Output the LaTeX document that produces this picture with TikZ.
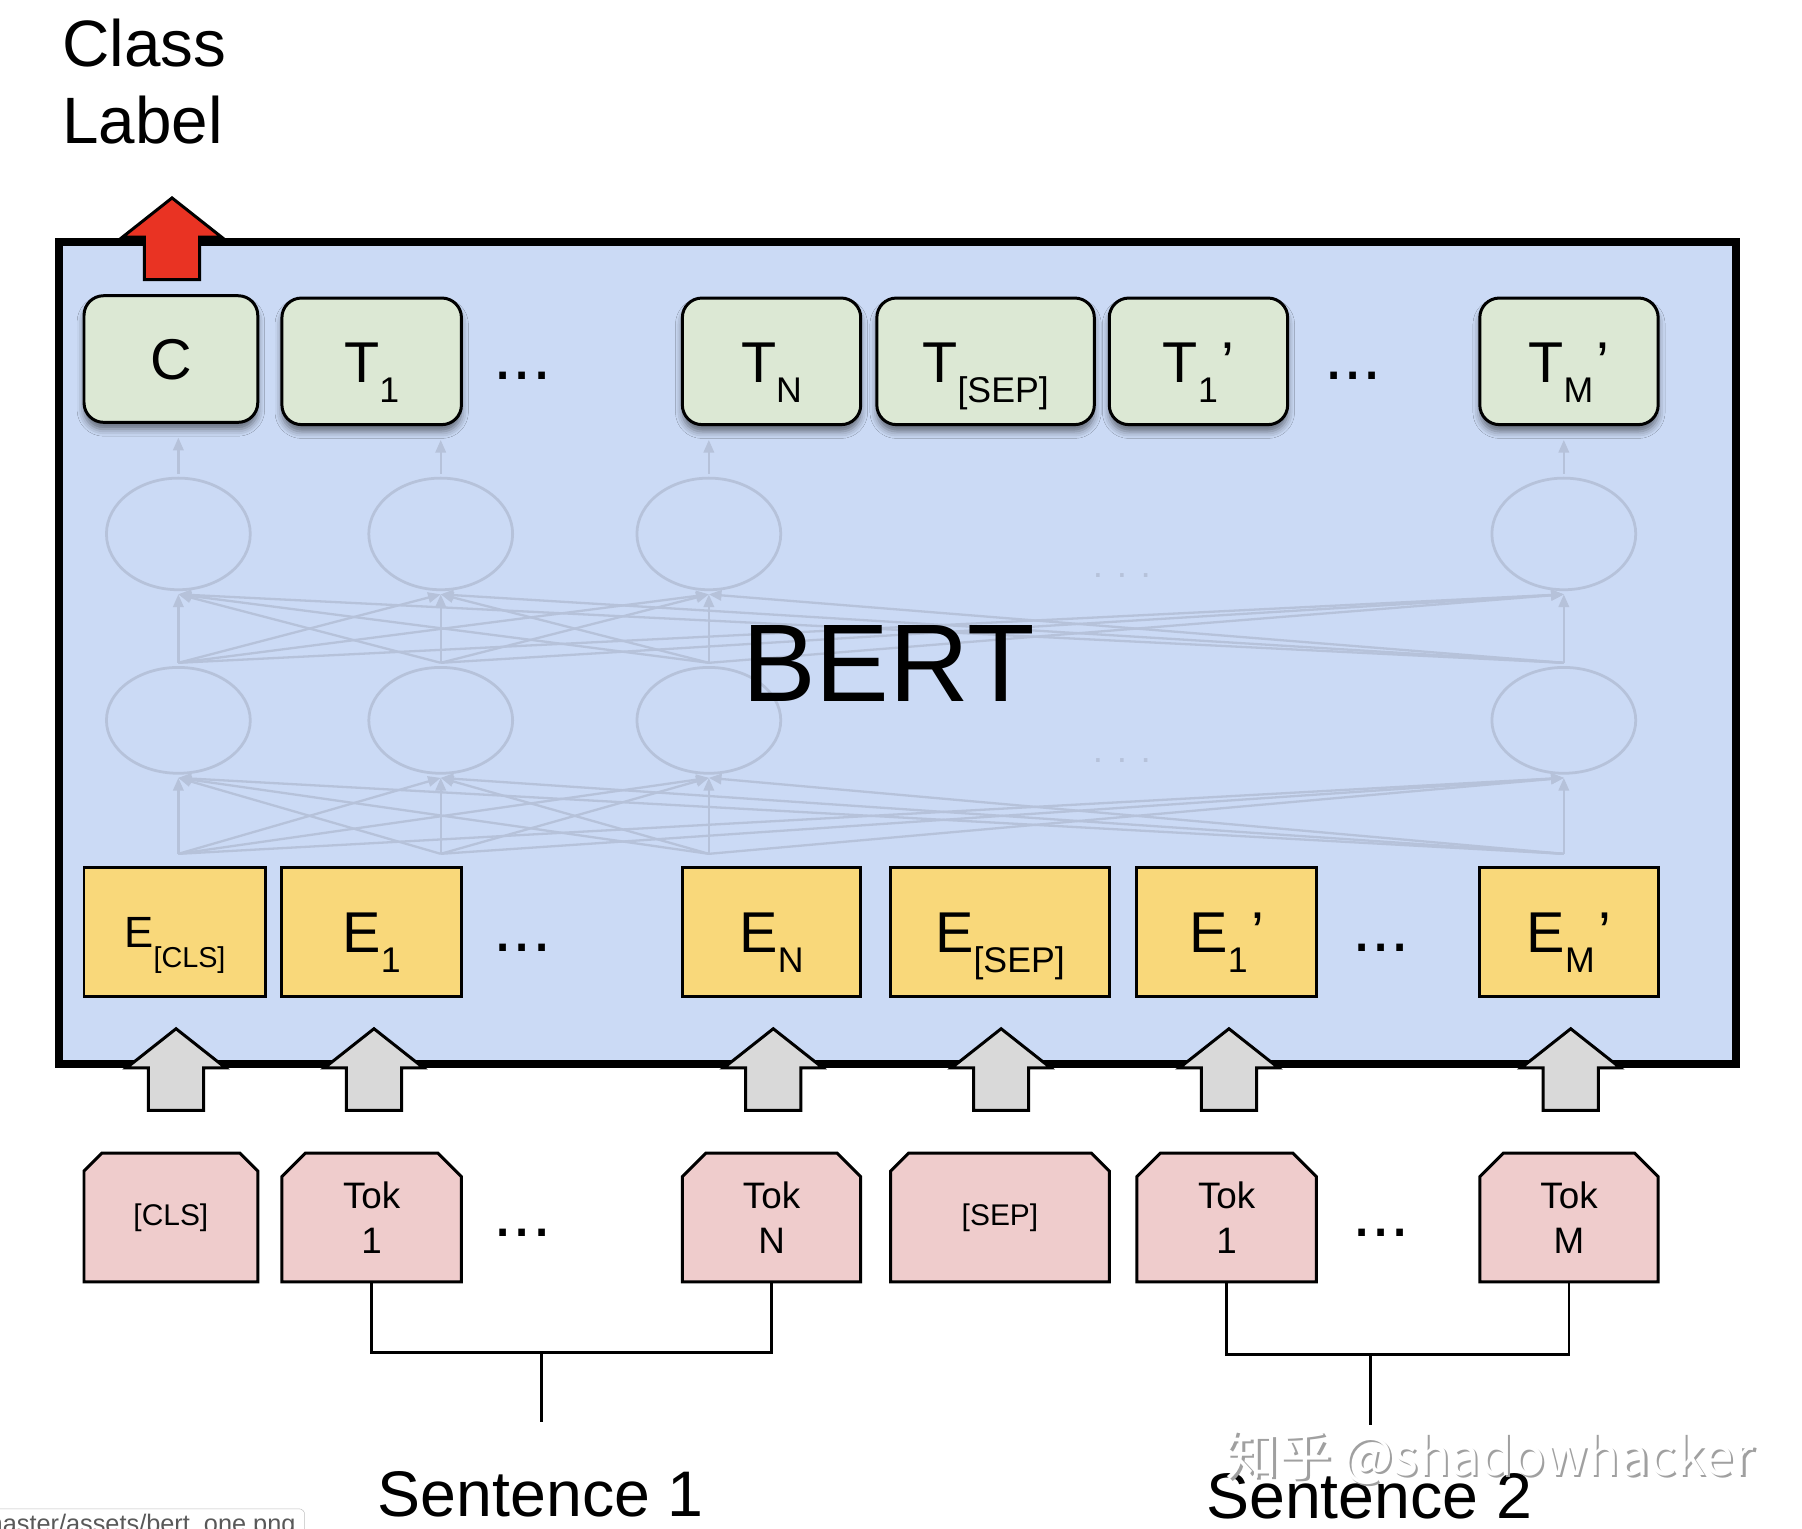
\documentclass[tikz,border=0pt]{standalone}
\usepackage{fontspec}
\setmainfont{Liberation Sans}
\newfontfamily\cjk{Noto Sans CJK SC}
\usetikzlibrary{positioning}
\usetikzlibrary{shapes.geometric, shapes.misc}
\usetikzlibrary{arrows.meta, shadows.blur}

\definecolor{bertblue}{RGB}{203,218,245}
\definecolor{outgreen}{RGB}{220,232,212}
\definecolor{embyellow}{RGB}{249,216,122}
\definecolor{tokpink}{RGB}{239,204,204}
\definecolor{arrowred}{RGB}{233,51,35}
\definecolor{arrowgray}{RGB}{217,217,217}
\definecolor{netgray}{RGB}{182,194,218}
\definecolor{wmgray}{RGB}{160,160,160}

\newcommand{\tsub}[2][31]{\raisebox{-17.4pt}{\fontsize{#1}{#1}\selectfont #2}}

\tikzset{
    outbox/.style={draw, line width=2.6pt, fill=outgreen, rounded corners=17pt,
        minimum height=110pt, inner sep=0pt, text height=36pt, text depth=0pt,
        font=\fontsize{50}{50}\selectfont,
        blur shadow={shadow xshift=0pt, shadow yshift=-6pt, shadow blur radius=6pt, shadow opacity=50}},
    embbox/.style={draw, line width=2.6pt, fill=embyellow, minimum height=112pt,
        inner sep=0pt, text height=36pt, text depth=0pt, font=\fontsize{50}{50}\selectfont},
    tokbox/.style={draw, line width=2.6pt, fill=tokpink, chamfered rectangle,
        chamfered rectangle corners={north west, north east}, chamfered rectangle xsep=17pt,
        minimum height=112pt, inner sep=0pt, align=center, font=\fontsize{32}{39}\selectfont},
    neuron/.style={ellipse, draw=netgray, line width=2.4pt, minimum width=125pt,
        inner sep=0pt, outer sep=4pt},
    netline/.style={draw=netgray, line width=2pt, -{Triangle[length=11pt, width=9pt]}},
    bracket/.style={line width=2.6pt},
    dots/.style={inner sep=0pt, font=\fontsize{60}{60}\selectfont},
    watermark/.style={anchor=base, font=\cjk\fontsize{46}{46}\selectfont},
    blockarrow/.pic={\draw[line width=2.6pt, line join=miter, pic actions]
        (-24,37) -- (-24,0) -- (-43,0) -- (0,-34) -- (43,0) -- (24,0) -- (24,37) -- cycle;}
}

\begin{document}
\begin{tikzpicture}[x=1pt, y=-1pt]
    \useasboundingbox (0,0) rectangle (1566,1328);

    % BERT box
    \node[draw, line width=7pt, fill=bertblue, minimum width=1458pt, minimum height=715pt, inner sep=0pt] (bertbox) at (780,567.5) {};

    % hidden layers
    \node[neuron, minimum height=97pt] (nb1) at (155,464) {};
    \node[neuron, minimum height=97pt] (nb2) at (383,464) {};
    \node[neuron, minimum height=97pt] (nb3) at (616,464) {};
    \node[neuron, minimum height=97pt] (nb4) at (1359,464) {};
    \node[neuron, minimum height=92pt] (na1) at (155,626) {};
    \node[neuron, minimum height=92pt] (na2) at (383,626) {};
    \node[neuron, minimum height=92pt] (na3) at (616,626) {};
    \node[neuron, minimum height=92pt] (na4) at (1359,626) {};
    \coordinate (in1) at (155,742);
    \coordinate (in2) at (383,742);
    \coordinate (in3) at (616,742);
    \coordinate (in4) at (1359,742);
    \foreach \i in {1,...,4}
        \foreach \j in {1,...,4} {
            \draw[netline] (in\j) -- (na\i.south);
            \draw[netline] (na\j.north) -- (nb\i.south);
        }
    \node[inner sep=0pt, text=netgray, font=\fontsize{32}{32}\selectfont] (netdotsb) at (975,500) {. . .};
    \node[inner sep=0pt, text=netgray, font=\fontsize{32}{32}\selectfont] (netdotsa) at (975,661) {. . .};

    \node[font=\fontsize{96}{96}\selectfont, anchor=base] (bertlabel) at (772,610) {BERT};

    % outputs
    \node[outbox, minimum width=151pt] (oC) at (148.5,312) {C};
    \node[outbox, minimum width=156pt] (oT1) at (323,314) {T\tsub{1}};
    \node[outbox, minimum width=155pt] (oTN) at (670.5,314) {T\tsub{N}};
    \node[outbox, minimum width=189pt] (oTsep) at (856.5,314) {T\tsub{[SEP]}};
    \node[outbox, minimum width=155pt] (oT1b) at (1041.5,314) {T\tsub{1}\hspace{3pt}’};
    \node[outbox, minimum width=155pt] (oTMb) at (1363.5,314) {T\tsub{M}\hspace{3pt}’};
    \node[dots] (dotTa) at (454,327) {...};
    \node[dots] (dotTb) at (1176,327) {...};

    \draw[netline, shorten >=12pt] (nb1.north) -- (nb1.north |- oC.south);
    \draw[netline, shorten >=12pt] (nb2.north) -- (nb2.north |- oT1.south);
    \draw[netline, shorten >=12pt] (nb3.north) -- (nb3.north |- oTN.south);
    \draw[netline, shorten >=12pt] (nb4.north) -- (nb4.north |- oTMb.south);

    % embeddings
    \node[embbox, minimum width=158pt, text height=27pt, font=\fontsize{38}{38}\selectfont] (eCls) at (152,810) {E\tsub[25]{[CLS]}};
    \node[embbox, minimum width=156pt] (e1) at (323,810) {E\tsub{1}};
    \node[embbox, minimum width=155pt] (eN) at (670.5,810) {E\tsub{N}};
    \node[embbox, minimum width=190pt] (eSep) at (869,810) {E\tsub{[SEP]}};
    \node[embbox, minimum width=156pt] (e1b) at (1066,810) {E\tsub{1}\hspace{3pt}’};
    \node[embbox, minimum width=155pt] (eMb) at (1363.5,810) {E\tsub{M}\hspace{3pt}’};
    \node[dots] (dotEa) at (454,824) {...};
    \node[dots] (dotEb) at (1200,824) {...};

    % arrows
    \pic[fill=arrowred] at (149.5,206) {blockarrow};
    \pic[fill=arrowgray] at (153,928) {blockarrow};
    \pic[fill=arrowgray] at (325,928) {blockarrow};
    \pic[fill=arrowgray] at (672,928) {blockarrow};
    \pic[fill=arrowgray] at (870,928) {blockarrow};
    \pic[fill=arrowgray] at (1068,928) {blockarrow};
    \pic[fill=arrowgray] at (1365,928) {blockarrow};

    % tokens
    \node[tokbox, minimum width=151pt, font=\fontsize{26}{26}\selectfont] (kCls) at (148.5,1058) {[CLS]};
    \node[tokbox, minimum width=156pt] (k1) at (323,1058) {Tok\\1};
    \node[tokbox, minimum width=155pt] (kN) at (670.5,1058) {Tok\\N};
    \node[tokbox, minimum width=190pt, font=\fontsize{26}{26}\selectfont] (kSep) at (869,1058) {[SEP]};
    \node[tokbox, minimum width=156pt] (k1b) at (1066,1058) {Tok\\1};
    \node[tokbox, minimum width=155pt] (kMb) at (1363.5,1058) {Tok\\M};
    \node[dots] (dotKa) at (454,1071) {...};
    \node[dots] (dotKb) at (1200,1071) {...};

    % sentences
    \coordinate (br1) at (471,1175);
    \coordinate (br2) at (1191,1177);
    \draw[bracket] (k1.south) |- (br1) -| (kN.south);
    \draw[bracket] (br1) -- ++(0,61);
    \draw[bracket] (k1b.south) |- (br2) -| (kMb.south);
    \draw[bracket] (br2) -- ++(0,61);
    \node[font=\fontsize{56}{56}\selectfont, anchor=base] (sent1) at (470,1318) {Sentence 1};
    \node[font=\fontsize{56}{56}\selectfont, anchor=base] (sent2) at (1190,1320) {Sentence 2};

    \node[anchor=north west, inner sep=0pt, align=left, font=\fontsize{57}{67}\selectfont] (classlabel) at (54,16) {Class\\Label};

    % watermark and tooltip
    \node[watermark, text=wmgray] (wmshade) at (1297,1284) {知乎 @shadowhacker};
    \node[watermark, text=white] (wmark) at (1295,1282) {知乎 @shadowhacker};
    \node[draw=black!25, fill=white, rounded corners=5pt, anchor=north east, inner xsep=8pt, inner ysep=5pt,
        text=black!65, font=\fontsize{22}{22}\selectfont] (urltip) at (265,1311) {master/assets/bert\_one.png};
\end{tikzpicture}
\end{document}
